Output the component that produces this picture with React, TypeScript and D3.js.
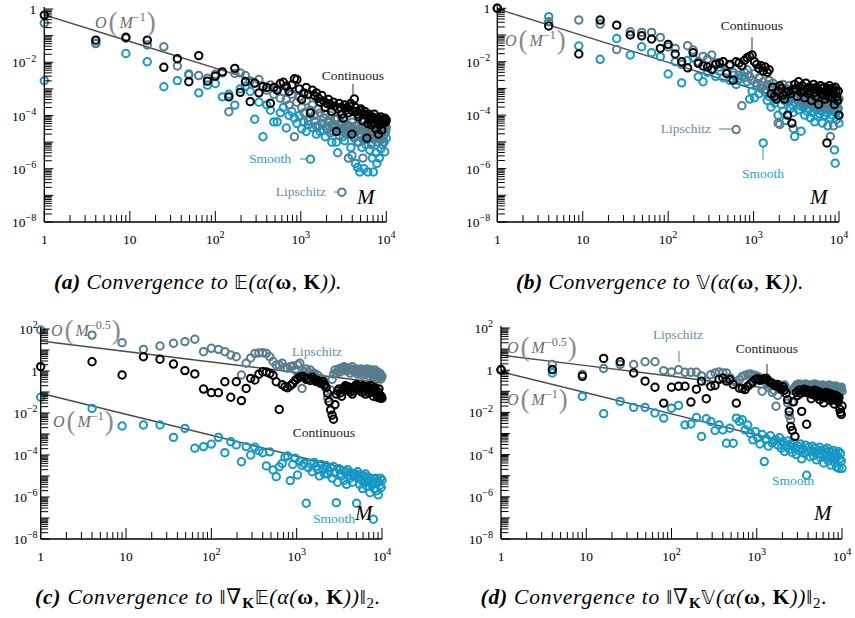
import React from 'react';
import * as d3 from 'd3';

// Sample sizes M (x values, shared by all panels)
const sampleSizes = [1,4,9,16,25,36,49,64,81,100,121,144,169,196,225,256,289,324,361,400,441,484,529,576,625,676,729,784,841,900,961,1024,1089,1156,1225,1296,1369,1444,1521,1600,1681,1764,1849,1936,2025,2116,2209,2304,2401,2500,2601,2704,2809,2916,3025,3136,3249,3364,3481,3600,3721,3844,3969,4096,4225,4356,4489,4624,4761,4900,5041,5184,5329,5476,5625,5776,5929,6084,6241,6400,6561,6724,6889,7056,7225,7396,7569,7744,7921,8100,8281,8464,8649,8836,9025,9216,9409,9604,9801,10000];

// Errors, stored as log10 of the value
const aContinuous = [
-0.23,-1.17,-1.06,-1.17,-2.19,-1.87,-2.73,-1.75,-2.71,-2.52,
-2.36,-3.30,-2.23,-3.13,-2.73,-3.48,-2.78,-3.15,-2.92,-2.95,
-3.54,-2.95,-3.05,-2.80,-2.75,-2.90,-3.10,-2.85,-2.62,-2.65,
-3.00,-3.40,-3.15,-2.95,-3.20,-3.90,-3.05,-3.25,-3.15,-3.35,
-3.50,-3.25,-3.45,-3.70,-3.55,-3.40,-3.60,-3.85,-3.50,-3.65,
-4.60,-3.75,-3.55,-3.70,-3.95,-4.10,-3.60,-3.80,-3.70,-3.90,
-3.65,-3.55,-4.70,-3.85,-3.38,-3.70,-3.85,-3.95,-4.05,-3.80,
-3.75,-3.90,-4.20,-3.95,-3.85,-4.00,-4.85,-4.30,-3.95,-4.05,
-4.15,-4.35,-4.05,-4.25,-3.95,-4.10,-4.50,-4.20,-4.10,-4.70,
-4.35,-4.20,-4.05,-4.55,-4.15,-4.30,-4.20,-4.10,-4.25,-4.17];
const aSmooth = [
-2.69,-1.30,-1.67,-1.98,-2.92,-2.69,-2.48,-3.15,-2.86,-2.80,
-3.30,-3.20,-3.61,-3.00,-2.90,-3.10,-4.14,-3.50,-4.80,-3.60,
-3.80,-4.24,-4.24,-3.90,-3.70,-4.47,-4.00,-3.85,-4.10,-4.30,
-4.00,-4.50,-4.25,-4.60,-4.35,-5.64,-4.45,-4.20,-4.70,-4.40,
-4.60,-4.30,-4.55,-4.80,-4.40,-4.25,-4.65,-5.00,-4.45,-4.35,
-5.00,-5.40,-4.60,-4.50,-4.30,-4.80,-4.95,-4.70,-4.45,-4.55,
-4.40,-5.20,-5.50,-4.60,-4.85,-5.80,-4.55,-5.95,-5.00,-6.12,
-4.70,-5.20,-4.90,-6.00,-4.60,-5.10,-4.80,-6.12,-4.65,-5.30,
-4.75,-5.00,-5.60,-6.12,-4.90,-4.70,-5.40,-5.80,-4.85,-5.00,
-5.60,-4.70,-5.25,-4.90,-5.10,-4.80,-5.00,-5.36,-4.60,-4.85];
const aLipschitz = [
-0.53,-1.28,-1.10,-1.35,-1.42,-2.14,-2.44,-2.50,-2.60,-2.45,
-2.40,-3.86,-2.42,-2.40,-2.50,-2.70,-2.80,-2.65,-2.90,-3.05,
-2.85,-3.20,-3.00,-3.35,-3.10,-3.40,-3.60,-3.20,-4.80,-3.50,
-3.30,-3.70,-3.90,-3.45,-4.20,-3.80,-3.60,-4.00,-4.40,-3.75,
-3.90,-4.30,-4.10,-3.95,-4.50,-4.20,-4.00,-4.35,-4.60,-4.15,
-4.40,-4.10,-4.75,-4.30,-6.88,-4.50,-4.20,-4.60,-4.35,-5.60,
-4.45,-4.70,-4.25,-4.55,-4.80,-4.40,-4.60,-5.00,-4.35,-4.50,
-4.70,-4.45,-5.60,-4.60,-4.40,-4.90,-4.55,-4.75,-4.45,-4.65,
-4.50,-5.10,-4.60,-4.40,-4.70,-4.85,-4.55,-4.45,-4.75,-4.60,
-4.50,-4.90,-4.65,-4.40,-4.55,-5.00,-4.70,-4.50,-4.60,-4.45];

const bContinuous = [
0.00,-0.66,-1.71,-0.44,-0.63,-1.00,-1.03,-1.15,-1.50,-1.35,
-1.71,-2.00,-2.23,-1.66,-2.06,-2.16,-2.20,-2.28,-2.10,-2.05,
-2.00,-2.44,-2.10,-2.69,-2.00,-2.05,-2.15,-1.95,-1.85,-1.80,
-1.75,-2.00,-2.10,-2.25,-2.15,-2.35,-2.20,-2.40,-2.30,-3.20,
-2.95,-3.30,-3.40,-3.10,-2.90,-3.00,-3.25,-3.40,-3.15,-4.00,
-3.10,-3.20,-4.30,-3.05,-2.85,-3.00,-3.30,-2.75,-2.95,-3.15,
-2.90,-3.05,-3.35,-2.80,-3.00,-3.20,-2.95,-3.10,-3.45,-3.00,
-2.85,-3.15,-3.30,-2.95,-3.05,-3.60,-3.10,-2.90,-3.20,-3.00,
-3.25,-2.95,-3.40,-3.10,-5.04,-3.00,-3.30,-2.90,-3.15,-3.05,
-3.35,-3.00,-3.20,-3.60,-2.95,-3.10,-3.30,-3.45,-3.10,-4.00];
const bSmooth = [
0.00,-0.31,-1.41,-1.91,-1.13,-1.75,-1.44,-1.66,-1.81,-2.46,
-2.00,-2.79,-1.95,-1.85,-2.56,-2.75,-2.40,-2.30,-2.55,-2.35,
-2.60,-2.45,-2.70,-2.50,-2.85,-2.65,-2.55,-2.40,-2.75,-3.40,
-3.10,-3.35,-2.90,-3.20,-3.00,-5.04,-3.15,-3.45,-3.30,-3.70,
-3.25,-3.55,-3.40,-4.00,-3.30,-3.60,-3.85,-3.45,-4.20,-3.50,
-3.35,-3.75,-3.60,-3.90,-4.80,-3.55,-3.40,-3.80,-3.65,-4.60,
-3.50,-3.70,-4.00,-3.60,-3.85,-3.45,-3.75,-4.10,-3.55,-3.90,
-3.70,-4.25,-3.60,-3.80,-4.05,-3.65,-3.95,-3.50,-3.85,-4.30,
-3.75,-3.60,-4.00,-3.70,-3.90,-4.40,-3.65,-3.85,-4.10,-3.80,
-3.70,-4.00,-3.85,-5.30,-5.80,-3.90,-4.15,-3.80,-4.00,-4.30];
const bLipschitz = [
0.00,-0.50,-0.44,-0.59,-1.54,-0.88,-0.90,-0.90,-1.09,-1.45,
-1.50,-2.10,-1.40,-1.56,-2.00,-1.80,-1.90,-1.75,-2.05,-2.20,
-2.00,-2.35,-2.15,-2.40,-4.54,-2.50,-3.65,-2.60,-2.30,-2.55,
-2.70,-2.45,-2.80,-2.60,-2.90,-2.75,-3.05,-2.85,-2.70,-3.00,
-2.80,-3.20,-2.95,-4.30,-4.35,-3.10,-2.85,-3.30,-3.00,-3.15,
-2.90,-3.40,-3.20,-4.50,-3.05,-3.30,-3.15,-3.50,-3.25,-3.00,
-3.35,-3.10,-3.45,-3.20,-3.55,-3.15,-3.30,-3.60,-3.25,-3.40,
-3.10,-3.50,-3.30,-3.65,-3.20,-3.45,-3.35,-3.70,-3.25,-3.50,
-3.40,-3.30,-3.60,-3.45,-3.35,-3.75,-3.40,-3.55,-4.80,-3.50,
-3.65,-3.40,-4.40,-3.55,-3.70,-3.45,-3.60,-3.50,-3.75,-3.40];

const cContinuous = [
0.21,0.44,-0.19,0.68,0.56,0.33,0.02,-0.14,-0.86,-1.03,
-1.03,-0.51,-1.25,-0.51,-1.41,-0.83,-0.35,-0.43,-0.15,-0.03,
-0.05,-0.12,-0.20,-0.51,-1.83,-0.65,-0.75,-0.80,-0.70,-0.60,
-0.45,-0.35,-0.30,-0.25,-0.30,-0.40,-0.35,-0.45,-0.30,-0.40,
-0.50,-0.45,-0.55,-0.60,-0.50,-0.65,-0.80,-1.06,-1.46,-1.85,
-2.10,-2.30,-1.60,-1.10,-0.95,-0.85,-1.05,-1.20,-0.90,-0.80,
-0.70,-0.85,-0.75,-0.90,-1.00,-0.80,-1.10,-0.95,-0.75,-0.70,
-0.65,-0.80,-0.90,-0.75,-0.85,-1.00,-0.70,-0.80,-0.95,-1.10,
-0.85,-0.75,-0.90,-1.05,-0.80,-0.70,-0.85,-1.00,-1.20,-0.90,
-0.80,-0.95,-1.10,-1.25,-1.00,-0.85,-1.15,-1.30,-1.20,-1.30];
const cSmooth = [
-1.25,-1.78,-2.62,-2.57,-2.57,-3.16,-2.73,-3.68,-3.60,-3.48,
-3.16,-3.89,-3.37,-3.52,-4.32,-3.60,-4.00,-3.63,-3.80,-3.89,
-4.52,-3.85,-4.71,-5.03,-4.56,-4.40,-4.10,-4.05,-5.22,-4.45,
-4.15,-4.95,-4.30,-4.50,-4.40,-6.30,-4.60,-4.40,-4.80,-4.35,
-4.55,-4.70,-5.00,-4.45,-4.65,-4.90,-4.50,-4.90,-4.75,-4.60,
-5.10,-4.55,-4.85,-6.27,-5.30,-4.65,-4.90,-5.00,-4.75,-5.20,
-4.80,-5.40,-4.70,-4.95,-5.10,-4.85,-5.30,-5.00,-5.00,-4.90,
-6.30,-4.80,-5.05,-5.40,-4.95,-5.20,-5.60,-5.00,-5.25,-4.90,
-5.10,-5.50,-5.05,-5.30,-5.80,-5.15,-5.40,-5.30,-7.06,-5.60,
-5.35,-5.10,-5.70,-5.25,-5.90,-5.30,-5.45,-5.10,-5.55,-5.20];
const cLipschitz = [
1.95,1.71,1.35,1.03,1.19,1.32,1.40,1.51,0.92,1.08,
1.03,0.92,0.76,0.68,-0.19,0.37,0.62,0.84,0.86,0.87,
0.84,0.68,0.45,0.29,0.29,0.37,0.17,0.13,0.21,0.24,
0.05,0.29,0.37,-0.83,-0.03,0.10,-0.05,0.05,-0.15,-0.10,
-0.30,-0.20,-0.45,-0.35,-0.60,-0.50,-0.75,-1.30,-1.46,-0.90,
-0.40,-0.15,0.05,-0.10,0.00,0.10,-0.05,0.15,0.05,0.20,
0.10,0.00,0.15,0.05,-0.10,0.10,0.20,0.05,-0.05,0.10,
0.00,-0.15,0.05,-0.10,0.10,0.00,-0.20,-0.05,0.05,-0.15,
0.00,0.10,-0.10,-0.25,0.00,-0.10,0.05,-0.20,-0.30,-0.10,
0.05,-0.15,-0.25,-0.05,-0.20,-0.30,-0.10,-0.20,-0.35,-0.25];

const dContinuous = [
0.03,0.03,-0.29,0.56,0.40,-0.13,-0.52,-0.81,-1.56,-0.81,
-0.76,-0.76,-1.51,-0.90,-0.52,-1.35,-0.76,-0.72,-0.44,-0.37,
-0.52,-0.44,-0.68,-1.56,-0.85,-0.87,-0.92,-0.76,-0.65,-0.55,
-0.45,-0.40,-0.48,-0.44,-0.40,-0.38,-0.50,-0.58,-0.62,-0.70,
-0.75,-0.68,-0.80,-0.90,-0.78,-0.95,-1.10,-1.40,-1.95,-2.67,
-2.85,-1.50,-3.14,-1.05,-1.20,-0.95,-1.10,-1.95,-1.00,-0.90,
-1.05,-2.56,-0.95,-1.10,-1.00,-1.35,-1.15,-1.05,-0.95,-1.10,
-1.25,-1.00,-1.15,-1.40,-1.05,-1.20,-1.10,-1.55,-1.30,-1.15,
-1.05,-1.25,-1.35,-1.10,-1.20,-1.45,-1.30,-1.15,-1.25,-1.60,
-1.40,-1.20,-1.35,-1.25,-1.50,-1.30,-1.85,-2.00,-2.10,-1.70];
const dSmooth = [
0.00,-0.13,-1.24,-2.06,-1.48,-1.76,-1.76,-2.03,-2.27,-1.80,
-1.67,-2.59,-2.55,-2.24,-3.14,-2.30,-2.43,-2.86,-2.59,-2.83,
-3.46,-2.75,-3.46,-2.27,-2.43,-2.35,-2.83,-2.60,-3.00,-3.30,
-2.90,-3.20,-3.50,-3.05,-4.33,-3.25,-3.60,-3.10,-3.45,-3.35,
-3.30,-3.55,-3.20,-3.70,-3.40,-3.85,-3.60,-3.35,-3.75,-3.50,
-3.90,-3.45,-3.70,-4.00,-3.60,-3.80,-3.50,-4.20,-3.75,-3.95,
-3.55,-4.98,-3.85,-3.65,-4.10,-3.80,-3.60,-4.05,-3.90,-3.70,
-4.25,-3.85,-3.95,-3.65,-4.15,-3.80,-4.00,-4.40,-3.75,-3.90,
-4.10,-3.70,-4.30,-3.85,-4.05,-4.50,-3.90,-4.15,-3.80,-4.20,
-4.40,-3.95,-4.60,-4.10,-3.85,-4.65,-4.20,-3.95,-4.30,-4.65];
const dLipschitz = [
0.00,0.27,-0.20,0.08,0.27,0.27,0.40,0.40,-0.02,-0.08,
0.02,-0.10,-0.10,-0.10,-0.27,-0.52,-0.21,-0.13,-0.08,-0.13,
-0.13,-0.35,-0.52,-0.60,-0.45,-0.30,-0.25,-0.20,-0.18,-0.22,
-0.25,-0.30,-0.35,-1.00,-0.45,-0.60,-0.80,-0.70,-1.05,-0.95,
-1.71,-1.20,-0.90,-0.85,-0.75,-0.70,-0.85,-1.55,-2.14,-2.35,
-1.50,-0.95,-0.80,-0.70,-0.75,-0.65,-0.80,-0.70,-0.90,-0.75,
-0.65,-0.80,-0.70,-0.85,-0.75,-0.70,-0.90,-0.80,-0.65,-0.75,
-0.85,-0.70,-0.80,-0.95,-0.75,-0.85,-0.70,-0.80,-0.90,-0.75,
-0.85,-0.95,-0.80,-0.70,-0.90,-0.85,-0.75,-1.00,-0.80,-0.90,
-0.85,-0.75,-0.95,-0.80,-0.90,-1.05,-0.85,-0.95,-0.80,-1.00];

const seriesNames = ['Smooth', 'Lipschitz', 'Continuous'];
const seriesColors = { Smooth: '#1798c4', Lipschitz: '#587d8d', Continuous: '#000000' };
const labelColors = { Smooth: '#23a4cf', Lipschitz: '#6a8d9c', Continuous: '#1a1a1a' };

const FONT = '"Liberation Serif", "DejaVu Serif", serif';

function Sup({ base, exp, size }) {
  return (
    <>
      <tspan>{base}</tspan>
      {exp !== null && <tspan fontSize={size * 0.75} dy={-size * 0.42}>{exp}</tspan>}
    </>
  );
}

function powLabel(k) {
  if (k === 0) return { base: '1', exp: null };
  if (k === 1) return { base: '10', exp: null };
  return { base: '10', exp: (k < 0 ? '\u2212' : '') + Math.abs(k) };
}

function RateLabel({ x, y, exp }) {
  return (
    <text x={x} y={y} fill="#6b6b6b" fontFamily={FONT} fontSize={16}>
      <tspan fontStyle="italic">O</tspan>
      <tspan fontSize={27} dx={2} dy={3} fill="#8a8a8a">(</tspan>
      <tspan fontStyle="italic" dx={2} dy={-3}>M</tspan>
      <tspan fontSize={12} dy={-7}>{exp}</tspan>
      <tspan fontSize={27} dx={1} dy={10} fill="#8a8a8a">)</tspan>
    </text>
  );
}

function Panel({ cfg }) {
  const x = d3.scaleLog().domain([1, 1e4]).range([cfg.x0, cfg.x1]);
  const y = d3.scaleLog().domain([Math.pow(10, cfg.yMinExp), Math.pow(10, cfg.yMaxExp)]).range([cfg.yBottom, cfg.yTop]);
  const yTicks = [];
  for (let k = cfg.yMinExp; k < cfg.yMaxExp; k++) {
    for (let m = 1; m < 10; m++) yTicks.push({ v: m * Math.pow(10, k), major: m === 1 });
  }
  yTicks.push({ v: Math.pow(10, cfg.yMaxExp), major: true });
  const xTicks = [];
  for (let k = 0; k < 4; k++) for (let m = 1; m < 10; m++) xTicks.push({ v: m * Math.pow(10, k), major: m === 1 });
  xTicks.push({ v: 1e4, major: true });
  const yLabelExps = d3.range(cfg.yMinExp, cfg.yMaxExp + 1, 2);
  const line = d3.line().x((d) => x(d[0])).y((d) => y(d[1]));
  const fs = 13.5;
  return (
    <g>
      {cfg.rates.map((r, i) => (
        <path key={i} d={line([1, 10, 100, 1000, 10000].map((m) => [m, r.c * Math.pow(m, -r.p)]))}
          fill="none" stroke="#4a4a4a" strokeWidth={1.4} />
      ))}
      {seriesNames.map((s) => (
        <g key={s}>
          {cfg.series[s].map((e, i) => (
            <circle key={i} cx={x(sampleSizes[i])} cy={y(Math.pow(10, e))} r={3.7}
              fill="none" stroke={seriesColors[s]} strokeWidth={2} />
          ))}
        </g>
      ))}
      {/* axes */}
      <line x1={cfg.x0} x2={cfg.x0} y1={cfg.yTop - 2} y2={cfg.yBottom} stroke="#000" strokeWidth={1.3} />
      <line x1={cfg.x0} x2={cfg.x1} y1={cfg.yBottom} y2={cfg.yBottom} stroke="#000" strokeWidth={1.3} />
      {yTicks.map((t, i) => (
        <line key={i} x1={cfg.x0} x2={cfg.x0 + (t.major ? 9 : 7.5)} y1={y(t.v)} y2={y(t.v)} stroke="#000" strokeWidth={1} />
      ))}
      {xTicks.map((t, i) => (
        <line key={i} x1={x(t.v)} x2={x(t.v)} y1={cfg.yBottom} y2={cfg.yBottom - (t.major ? 11 : 7)} stroke="#000" strokeWidth={1} />
      ))}
      {yLabelExps.map((k) => {
        const l = powLabel(k);
        return (
          <text key={k} x={cfg.x0 - cfg.yLabelGap} y={y(Math.pow(10, k)) + 5} textAnchor="end" fontFamily={FONT} fontSize={fs}>
            <Sup base={l.base} exp={l.exp} size={fs} />
          </text>
        );
      })}
      {[0, 1, 2, 3, 4].map((k) => {
        const l = powLabel(k);
        return (
          <text key={k} x={x(Math.pow(10, k))} y={cfg.yBottom + 22} textAnchor="middle" fontFamily={FONT} fontSize={fs}>
            <Sup base={l.base} exp={l.exp} size={fs} />
          </text>
        );
      })}
      <text x={cfg.mPos[0]} y={cfg.mPos[1]} fontFamily={FONT} fontStyle="italic" fontSize={21}>M</text>
      {cfg.rateLabels.map((r, i) => <RateLabel key={i} x={r.x} y={r.y} exp={r.exp} />)}
      {cfg.labels.map((l, i) => (
        <g key={i}>
          <text x={l.x} y={l.y} textAnchor={l.anchor} fill={labelColors[l.s]} fontFamily={FONT} fontSize={13.5}>{l.s}</text>
          {l.lead && <line x1={l.lead[0]} y1={l.lead[1]} x2={l.lead[2]} y2={l.lead[3]} stroke={seriesColors[l.s] === '#000000' ? '#333' : seriesColors[l.s]} strokeWidth={1} />}
        </g>
      ))}
      <text x={cfg.capPos[0]} y={cfg.capPos[1]} textAnchor="middle" fontFamily={FONT} fontSize={21.5} fontStyle="italic" letterSpacing={cfg.capSpacing}>
        {cfg.caption}
      </text>
    </g>
  );
}

function capEV(letter, op) {
  return (
    <>
      <tspan fontWeight="bold">({letter})</tspan>
      <tspan> Convergence to </tspan>
      <tspan fontStyle="normal" fontFamily='"DejaVu Sans", serif' fontSize={19}>{op}</tspan>
      <tspan>(α(</tspan>
      <tspan fontWeight="bold" fontStyle="normal">ω</tspan>
      <tspan>, </tspan>
      <tspan fontWeight="bold" fontStyle="normal">K</tspan>
      <tspan>)).</tspan>
    </>
  );
}
function capGrad(letter, op) {
  return (
    <>
      <tspan fontWeight="bold">({letter})</tspan>
      <tspan> Convergence to </tspan>
      <tspan fontStyle="normal">‖∇</tspan>
      <tspan fontWeight="bold" fontStyle="normal" fontSize={15} dy={4}>K</tspan>
      <tspan fontStyle="normal" fontFamily='"DejaVu Sans", serif' fontSize={19} dy={-4}>{op}</tspan>
      <tspan>(α(</tspan>
      <tspan fontWeight="bold" fontStyle="normal">ω</tspan>
      <tspan>, </tspan>
      <tspan fontWeight="bold" fontStyle="normal">K</tspan>
      <tspan>))</tspan>
      <tspan fontStyle="normal">‖</tspan>
      <tspan fontStyle="normal" fontSize={15} dy={4}>2</tspan>
      <tspan dy={-4}>.</tspan>
    </>
  );
}

const panels = [
  {
    x0: 44.3, x1: 386.3, yTop: 9, yBottom: 222, yMinExp: -8, yMaxExp: 0, yLabelGap: 8,
    series: { Smooth: aSmooth, Lipschitz: aLipschitz, Continuous: aContinuous },
    rates: [{ c: 0.6, p: 1 }],
    rateLabels: [{ x: 95, y: 28, exp: '\u22121' }],
    labels: [
      { s: 'Continuous', x: 353, y: 80, anchor: 'middle', lead: [353, 84, 353, 95] },
      { s: 'Smooth', x: 291, y: 163, anchor: 'end', lead: [300, 159, 306, 159] },
      { s: 'Lipschitz', x: 326, y: 196, anchor: 'end', lead: [334, 192, 338, 192] },
    ],
    mPos: [357, 204],
    capPos: [198, 289],
    capSpacing: 0.5,
    caption: capEV('a', '𝔼'),
  },
  {
    x0: 497.3, x1: 839, yTop: 8.3, yBottom: 222, yMinExp: -8, yMaxExp: 0, yLabelGap: 7,
    series: { Smooth: bSmooth, Lipschitz: bLipschitz, Continuous: bContinuous },
    rates: [{ c: 0.95, p: 1 }],
    rateLabels: [{ x: 505, y: 46, exp: '\u22121' }],
    labels: [
      { s: 'Continuous', x: 752, y: 30, anchor: 'middle', lead: [752, 37, 752, 51] },
      { s: 'Lipschitz', x: 711, y: 133, anchor: 'end', lead: [719, 129, 732, 129] },
      { s: 'Smooth', x: 763, y: 178, anchor: 'middle', lead: [763, 147, 763, 160] },
    ],
    mPos: [810, 204],
    capPos: [660, 289],
    capSpacing: 0.5,
    caption: capEV('b', '𝕍'),
  },
  {
    x0: 40.7, x1: 382, yTop: 329, yBottom: 539, yMinExp: -8, yMaxExp: 2, yLabelGap: 3,
    series: { Smooth: cSmooth, Lipschitz: cLipschitz, Continuous: cContinuous },
    rates: [{ c: 27, p: 0.5 }, { c: 0.087, p: 1 }],
    rateLabels: [{ x: 51, y: 336, exp: '\u22120.5' }, { x: 53, y: 427, exp: '\u22121' }],
    labels: [
      { s: 'Lipschitz', x: 317, y: 356, anchor: 'middle' },
      { s: 'Continuous', x: 324, y: 437, anchor: 'middle' },
      { s: 'Smooth', x: 334, y: 523, anchor: 'middle' },
    ],
    mPos: [355, 520],
    capPos: [208, 604],
    capSpacing: 0.8,
    caption: capGrad('c', '𝔼'),
  },
  {
    x0: 501, x1: 842, yTop: 328, yBottom: 539, yMinExp: -8, yMaxExp: 2, yLabelGap: 8,
    series: { Smooth: dSmooth, Lipschitz: dLipschitz, Continuous: dContinuous },
    rates: [{ c: 5.2, p: 0.5 }, { c: 0.85, p: 1 }],
    rateLabels: [{ x: 507, y: 353, exp: '\u22120.5' }, { x: 507, y: 405, exp: '\u22121' }],
    labels: [
      { s: 'Lipschitz', x: 678, y: 339, anchor: 'middle', lead: [679, 351, 679, 362] },
      { s: 'Continuous', x: 767, y: 353, anchor: 'middle', lead: [767, 364, 767, 374] },
      { s: 'Smooth', x: 793, y: 485, anchor: 'middle' },
    ],
    mPos: [814, 520],
    capPos: [654, 604],
    capSpacing: 0.8,
    caption: capGrad('d', '𝕍'),
  },
];

export default function App() {
  return (
    <svg width={855} height={618} style={{ position: 'absolute', left: 0, top: 0, background: '#fff' }}>
      <rect width={855} height={618} fill="#fff" />
      {panels.map((p, i) => <Panel key={i} cfg={p} />)}
    </svg>
  );
}
